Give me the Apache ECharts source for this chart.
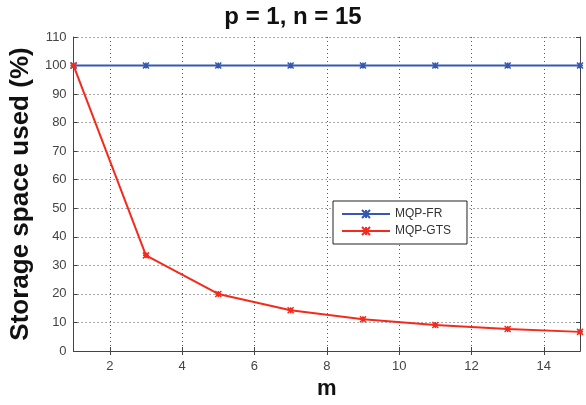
<!DOCTYPE html>
<html>
<head>
<meta charset="utf-8">
<script src="https://cdn.jsdelivr.net/npm/echarts@6/dist/echarts.min.js"></script>
<style>
  html, body { margin: 0; padding: 0; background: #fff; }
  #container { width: 586px; height: 405px; }
</style>
</head>
<body>
<div id="container"></div>
<script>
;(function() {
  var dom = document.getElementById('container')
  var myChart = echarts.init(dom)

  var mValues = [1, 3, 5, 7, 9, 11, 13, 15]
  var mqpFr = [100, 100, 100, 100, 100, 100, 100, 100]
  var mqpGts = [100, 33.5, 20, 14.3, 11.1, 9.1, 7.7, 6.7]
  var xTicks = [2, 4, 6, 8, 10, 12, 14]

  function pairs(ys) {
    var out = []
    for (var i = 0; i < mValues.length; i++) out.push([mValues[i], ys[i]])
    return out
  }

  var cross = 'path://M0,0L10,10M10,0L0,10M5,0L5,10M0,5L10,5'
  var labelFont = { fontFamily: 'Liberation Sans', fontSize: 13, color: '#444' }
  var gridLine = { show: true, lineStyle: { color: '#555', type: [1, 3], width: 1 } }

  var option = {
    backgroundColor: '#fff',
    animation: false,
    title: {
      text: 'p = 1, n = 15',
      left: 'center',
      top: 0,
      textStyle: { fontFamily: 'Liberation Sans', fontSize: 24, fontWeight: 'bold', color: '#111' }
    },
    grid: { left: 71, right: 6, top: 37, bottom: 43 },
    legend: {
      orient: 'vertical',
      left: 333,
      top: 201,
      itemWidth: 48,
      itemHeight: 10,
      itemGap: 5,
      padding: [7, 16, 7, 8],
      borderColor: '#222',
      borderWidth: 1,
      backgroundColor: '#fff',
      textStyle: { fontFamily: 'Liberation Sans', fontSize: 12, color: '#333' },
      data: ['MQP-FR', 'MQP-GTS']
    },
    xAxis: [
      {
        type: 'value', min: 1, max: 15,
        name: 'm', nameLocation: 'middle', nameGap: 27,
        nameTextStyle: { fontFamily: 'Liberation Sans', fontSize: 22, fontWeight: 'bold', color: '#111' },
        axisLine: { lineStyle: { color: '#444' } },
        axisTick: { inside: true, length: 4, customValues: xTicks, lineStyle: { color: '#444' } },
        axisLabel: Object.assign({ customValues: xTicks, margin: 9 }, labelFont),
        splitLine: gridLine
      },
      {
        type: 'value', min: 1, max: 15, position: 'top',
        axisLine: { show: true, lineStyle: { color: '#444' } },
        axisTick: { inside: true, length: 4, customValues: xTicks, lineStyle: { color: '#444' } },
        axisLabel: { show: false },
        splitLine: { show: false }
      }
    ],
    yAxis: [
      {
        type: 'value', min: 0, max: 110, interval: 10,
        name: 'Storage space used (%)', nameLocation: 'middle', nameGap: 39,
        nameTextStyle: { fontFamily: 'Liberation Sans', fontSize: 26, fontWeight: 'bold', color: '#111' },
        axisLine: { show: true, lineStyle: { color: '#444' } },
        axisTick: { inside: true, length: 4, lineStyle: { color: '#444' } },
        axisLabel: Object.assign({ margin: 7 }, labelFont),
        splitLine: gridLine
      },
      {
        type: 'value', min: 0, max: 110, interval: 10, position: 'right',
        axisLine: { show: true, lineStyle: { color: '#444' } },
        axisTick: { inside: true, length: 4, lineStyle: { color: '#444' } },
        axisLabel: { show: false },
        splitLine: { show: false }
      }
    ],
    series: [
      {
        name: 'MQP-FR', type: 'line', data: pairs(mqpFr),
        symbol: cross, symbolSize: 6, showAllSymbol: true,
        color: '#3558b0',
        lineStyle: { width: 2, color: '#3558b0' },
        itemStyle: { color: '#3558b0', borderColor: '#3558b0', borderWidth: 1.5 }
      },
      {
        name: 'MQP-GTS', type: 'line', data: pairs(mqpGts),
        symbol: cross, symbolSize: 6, showAllSymbol: true,
        color: '#f42b1c',
        lineStyle: { width: 2, color: '#f42b1c' },
        itemStyle: { color: '#f42b1c', borderColor: '#f42b1c', borderWidth: 1.5 }
      }
    ]
  }

  myChart.setOption(option, true)
})()
</script>
</body>
</html>
